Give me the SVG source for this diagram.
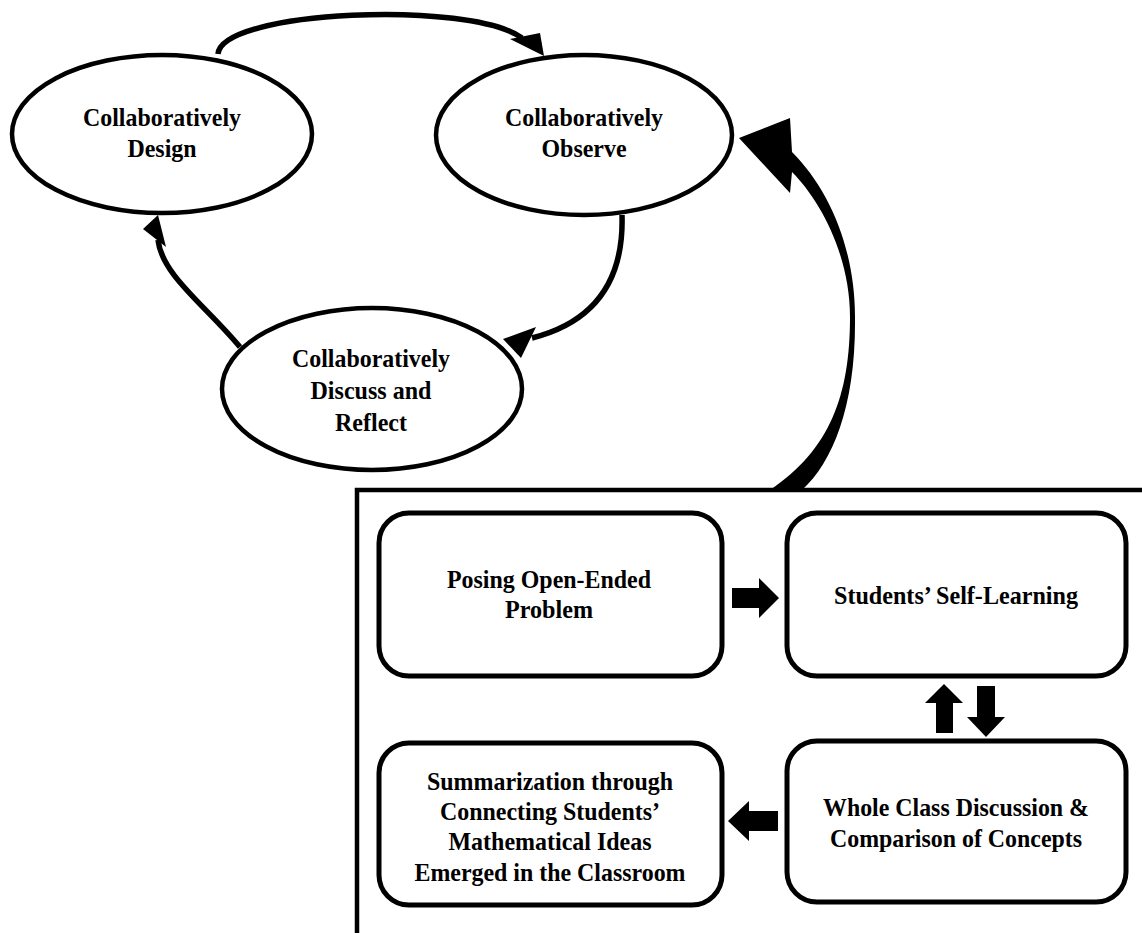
<svg xmlns="http://www.w3.org/2000/svg" width="1142" height="933" viewBox="0 0 1142 933">
<style>
.node{fill:#fff;stroke:#000;stroke-width:4.5}
.box{fill:#fff;stroke:#000;stroke-width:5}
.t{font-family:"Liberation Serif","Times New Roman",serif;font-weight:bold;font-size:26px;fill:#000;text-anchor:middle}
.line{fill:none;stroke:#000;stroke-width:5.5}
.solid{fill:#000;stroke:none}
.frame{fill:none;stroke:#000;stroke-width:4.5}
</style>
<rect x="0" y="0" width="1142" height="933" fill="#fff"/>
<g id="frame">
<path class="frame" d="M357 933 L357 490 L1142 490"/>
</g>
<g id="design">
<ellipse class="node" cx="162" cy="134" rx="150" ry="79"/>
<text class="t" x="162" y="126" textLength="158" lengthAdjust="spacingAndGlyphs">Collaboratively</text>
<text class="t" x="162" y="157" textLength="69" lengthAdjust="spacingAndGlyphs">Design</text>
</g>
<g id="observe">
<ellipse class="node" cx="584" cy="135" rx="148" ry="80"/>
<text class="t" x="584" y="126" textLength="158" lengthAdjust="spacingAndGlyphs">Collaboratively</text>
<text class="t" x="584" y="157" textLength="85" lengthAdjust="spacingAndGlyphs">Observe</text>
</g>
<g id="discuss">
<ellipse class="node" cx="372" cy="389" rx="150" ry="81"/>
<text class="t" x="371" y="367" textLength="158" lengthAdjust="spacingAndGlyphs">Collaboratively</text>
<text class="t" x="371" y="399" textLength="121" lengthAdjust="spacingAndGlyphs">Discuss and</text>
<text class="t" x="371" y="431" textLength="72" lengthAdjust="spacingAndGlyphs">Reflect</text>
</g>
<g id="posing">
<rect class="box" x="379" y="513" width="343" height="163" rx="30"/>
<text class="t" x="549" y="588" textLength="204" lengthAdjust="spacingAndGlyphs">Posing Open-Ended</text>
<text class="t" x="549" y="618" textLength="88" lengthAdjust="spacingAndGlyphs">Problem</text>
</g>
<g id="selflearning">
<rect class="box" x="787" y="513" width="339" height="163" rx="30"/>
<text class="t" x="956" y="604" textLength="244" lengthAdjust="spacingAndGlyphs">Students’ Self-Learning</text>
</g>
<g id="summarization">
<rect class="box" x="379" y="743" width="343" height="162" rx="30"/>
<text class="t" x="550" y="790" textLength="246" lengthAdjust="spacingAndGlyphs">Summarization through</text>
<text class="t" x="550" y="820" textLength="220" lengthAdjust="spacingAndGlyphs">Connecting Students’</text>
<text class="t" x="550" y="850" textLength="203" lengthAdjust="spacingAndGlyphs">Mathematical Ideas</text>
<text class="t" x="550" y="881" textLength="271" lengthAdjust="spacingAndGlyphs">Emerged in the Classroom</text>
</g>
<g id="wholeclass">
<rect class="box" x="787" y="741" width="339" height="161" rx="30"/>
<text class="t" x="956" y="816" textLength="266" lengthAdjust="spacingAndGlyphs">Whole Class Discussion &amp;</text>
<text class="t" x="956" y="847" textLength="252" lengthAdjust="spacingAndGlyphs">Comparison of Concepts</text>
</g>
<g id="connectors">
<path class="line" d="M218 54 C222 10, 470 0, 522 38"/>
<polygon class="solid" points="510,39 540,33 544,56"/>
<path class="line" d="M622 215 C624 280, 595 322, 532 338"/>
<polygon class="solid" points="503,339 536,327 521,358"/>
<path class="line" d="M240 347 C205 305, 162 275, 158 240"/>
<polygon class="solid" points="143,229 158,215 166,247"/>
<path class="solid" d="M802 490 C833 462, 856 405, 855 317 C855 250, 830 190, 792 152 L790 118 L739 138 L790 193 L792 172 C820 200, 850 255, 850 317 C850 395, 830 450, 770 490 Z"/>
<polygon class="solid" points="732,588 759,588 759,578 779,598 759,618 759,608 732,608"/>
<polygon class="solid" points="944,684 963,703 953,703 953,733 936,733 936,703 925,703"/>
<polygon class="solid" points="977,686 995,686 995,717 1005,717 986,737 967,717 977,717"/>
<polygon class="solid" points="778,811 749,811 749,801 728,821 749,841 749,831 778,831"/>
</g>
</svg>
